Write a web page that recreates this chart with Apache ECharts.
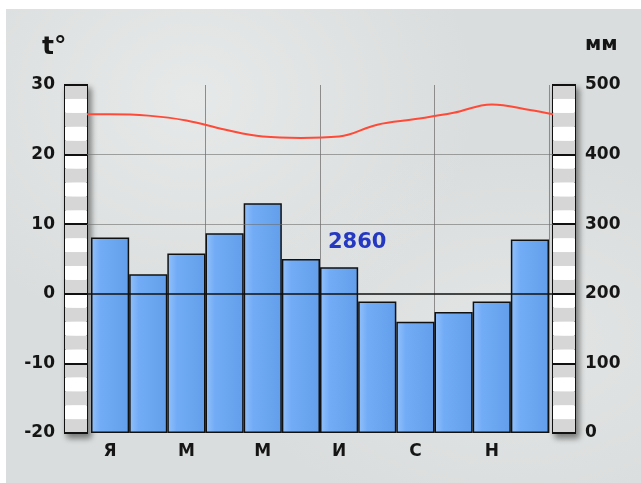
<!DOCTYPE html>
<html>
<head>
<meta charset="utf-8">
<script src="https://cdn.jsdelivr.net/npm/echarts@6/dist/echarts.min.js"></script>
<style>
  html, body { margin: 0; padding: 0; background: #fff; }
  #chart {
    position: absolute; left: 0; top: 0; width: 641px; height: 483px;
    background:
      linear-gradient(#fff, #fff) left top / 100% 9px no-repeat,
      linear-gradient(#fff, #fff) left top / 6px 100% no-repeat,
      radial-gradient(ellipse at 30% 20%, rgba(236,238,238,0.7), rgba(236,238,238,0) 45%),
      radial-gradient(ellipse at 80% 70%, rgba(232,234,234,0.6), rgba(232,234,234,0) 40%),
      #dadddd;
  }
</style>
</head>
<body>
<div id="chart"></div>
<script>
// ---- data ----
const months = ['Я','Ф','М','А','М','И','И','А','С','О','Н','Д'];
const precipMM = [281, 228, 258, 287, 330, 250, 238, 189, 160, 174, 189, 278];
const tempC = [25.8, 25.6, 24.9, 23.6, 22.6, 22.4, 22.6, 24.3, 25.1, 26.0, 27.2, 26.4];
const tempAtYearEdges = [25.8, 25.8];   // temperature curve at start / end of year
const tempAxis = [-20, 30, 10];          // min, max, label step
const mmAxis = [0, 500, 100];            // min, max, label step
const annualTotal = '2860';

// ---- layout ----
const plotTop = 85, plotBottom = 50;
const barLeft = 91, barRight = 92;      // bars grid
const ovLeft = 87, ovRight = 88;        // overlay grid (line + lines)
const stripW = 22;
const bandW = (641 - barLeft - barRight) / months.length;
const pad = (barLeft - ovLeft) / bandW;

const lineData = [[-pad, tempAtYearEdges[0]]]
  .concat(tempC.map((v, i) => [i + 0.5, v]))
  .concat([[months.length + pad, tempAtYearEdges[1]]]);

const labelFont = { fontFamily: 'DejaVu Sans', fontWeight: 'bold', fontSize: 17, color: '#151515' };
const stripGrid = {
  top: plotTop, bottom: plotBottom, width: stripW,
  show: true, backgroundColor: '#fff', borderColor: '#111', borderWidth: 2,
  shadowColor: 'rgba(0,0,0,0.45)', shadowBlur: 6, shadowOffsetX: 3, shadowOffsetY: 4
};
const bandColors = ['#d6d6d6', '#ffffff'];   // first colour = bottom band (grey in reference)

const chart = echarts.init(document.getElementById('chart'), null, { renderer: 'canvas' });
chart.setOption({
  backgroundColor: 'transparent',
  animation: false,
  title: [
    { text: annualTotal, left: 328, top: 232, padding: 0,
      textStyle: { fontFamily: 'DejaVu Sans', fontWeight: 'bold', fontSize: 21, color: '#2538c2' } },
    { text: 't°', left: 42, top: 35, padding: 0,
      textStyle: { fontFamily: 'DejaVu Sans', fontWeight: 'bold', fontSize: 25, color: '#151515' } },
    { text: 'мм', left: 585, top: 35, padding: 0,
      textStyle: { fontFamily: 'DejaVu Sans', fontWeight: 'bold', fontSize: 20, color: '#151515' } }
  ],
  grid: [
    { left: barLeft, right: barRight, top: plotTop, bottom: plotBottom },
    { left: ovLeft, right: ovRight, top: plotTop, bottom: plotBottom },
    Object.assign({ left: ovLeft - stripW }, stripGrid),
    Object.assign({ left: 641 - ovRight }, stripGrid)
  ],
  xAxis: [
    { gridIndex: 0, type: 'category', data: months,
      axisLine: { show: false }, axisTick: { show: false },
      axisLabel: Object.assign({ interval: 1, margin: 10 }, labelFont),
      splitLine: { show: true, interval: (i) => i === 3 || i === 6 || i === 9,
        lineStyle: { color: '#8c8c8c', width: 1 } } },
    { gridIndex: 1, type: 'value', min: -pad, max: months.length + pad, show: false },
    { gridIndex: 2, type: 'value', show: false },
    { gridIndex: 3, type: 'value', show: false }
  ],
  yAxis: [
    { gridIndex: 0, type: 'value', min: mmAxis[0], max: mmAxis[1], show: false },
    { gridIndex: 1, type: 'value', min: tempAxis[0], max: tempAxis[1], show: false },
    { gridIndex: 2, type: 'value', min: tempAxis[0], max: tempAxis[1], interval: tempAxis[2] / 5,
      axisLine: { show: false }, axisTick: { show: false }, axisLabel: { show: false },
      splitLine: { show: false },
      splitArea: { show: true, areaStyle: { color: bandColors } } },
    { gridIndex: 2, type: 'value', min: tempAxis[0], max: tempAxis[1], interval: tempAxis[2],
      position: 'left',
      axisLine: { show: false }, axisTick: { show: false },
      axisLabel: Object.assign({ margin: 10 }, labelFont),
      splitLine: { show: true, lineStyle: { color: '#111', width: 2 } } },
    { gridIndex: 3, type: 'value', min: mmAxis[0], max: mmAxis[1], interval: mmAxis[2] / 5,
      axisLine: { show: false }, axisTick: { show: false }, axisLabel: { show: false },
      splitLine: { show: false },
      splitArea: { show: true, areaStyle: { color: bandColors } } },
    { gridIndex: 3, type: 'value', min: mmAxis[0], max: mmAxis[1], interval: mmAxis[2],
      position: 'right',
      axisLine: { show: false }, axisTick: { show: false },
      axisLabel: Object.assign({ margin: 10 }, labelFont),
      splitLine: { show: true, lineStyle: { color: '#111', width: 2 } } }
  ],
  series: [
    { type: 'bar', xAxisIndex: 0, yAxisIndex: 0, data: precipMM,
      barCategoryGap: '0%', z: 2,
      itemStyle: {
        color: new echarts.graphic.LinearGradient(0, 0, 1, 0, [
          { offset: 0, color: '#92c1fa' },
          { offset: 0.25, color: '#72acf6' },
          { offset: 1, color: '#629eea' }
        ]),
        borderColor: '#111', borderWidth: 1.5
      } },
    { type: 'line', xAxisIndex: 1, yAxisIndex: 1, data: lineData, z: 4,
      smooth: 0.4, symbol: 'none',
      lineStyle: { color: '#ff4a38', width: 2 },
      markLine: { silent: true, symbol: 'none', label: { show: false },
        data: [
          { yAxis: 0, lineStyle: { color: '#111', width: 1.5, type: 'solid' } },
          { yAxis: 10, lineStyle: { color: 'rgba(110,110,110,0.6)', width: 1, type: 'solid' } },
          { yAxis: 20, lineStyle: { color: 'rgba(110,110,110,0.6)', width: 1, type: 'solid' } }
        ] } }
  ]
});
</script>
</body>
</html>
